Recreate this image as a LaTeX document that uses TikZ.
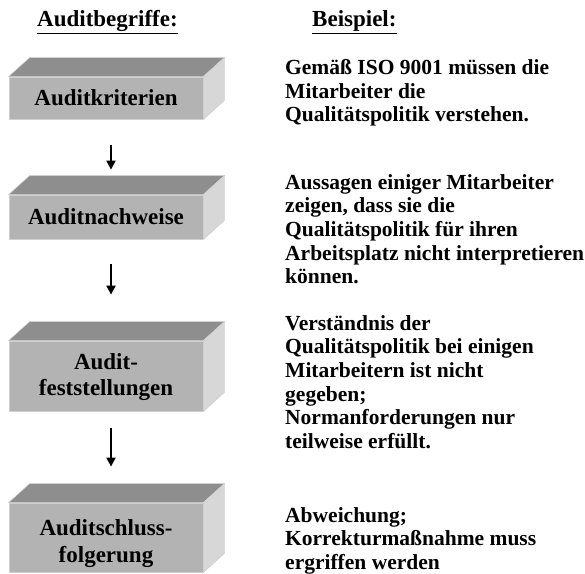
\documentclass[tikz,border=0pt]{standalone}
\usepackage{fontspec}
\setmainfont{Liberation Serif}
\usetikzlibrary{arrows.meta}
\definecolor{frontc}{HTML}{B3B3B3}
\definecolor{topc}{HTML}{8E8E8E}
\definecolor{sidec}{HTML}{D7D7D7}
\definecolor{edgec}{HTML}{CFCFCF}
\tikzset{
  front/.style={fill=frontc, draw=edgec, line width=0.8pt, minimum width=194pt, inner sep=0pt, align=center, font=\fontsize{23}{26.5}\selectfont\bfseries},
  boxlabel/.style={inner sep=0pt, align=center, font=\fontsize{23}{26.5}\selectfont\bfseries},
  topface/.style={fill=topc, draw=edgec, line width=0.6pt},
  sideface/.style={fill=sidec, draw=edgec, line width=0.6pt},
  txt/.style={anchor=north west, inner sep=0pt, align=left, font=\fontsize{21.5}{23.7}\selectfont\bfseries},
  hdr/.style={anchor=base west, inner sep=0pt, font=\fontsize{23}{26}\selectfont\bfseries},
  arr/.style={-{Triangle[length=9pt,width=9pt]}, line width=2pt}
}
\newcommand{\cubefaces}[1]{%
  \path[topface] (#1.north west) -- ++(21pt,19pt) -- ([shift={(21pt,19pt)}]#1.north east) -- (#1.north east) -- cycle;
  \path[sideface] (#1.north east) -- ++(21pt,19pt) -- ([shift={(21pt,19pt)}]#1.south east) -- (#1.south east) -- cycle;
}
\begin{document}
\begin{tikzpicture}[x=1pt,y=1pt]
\useasboundingbox[fill=white] (0,0) rectangle (585,573);
% headers
\node[hdr] (h1) at (37,546) {\underline{Auditbegriffe:}};
\node[hdr] (h2) at (312,546) {\underline{Beispiel:}};
% boxes
\node[front, minimum height=42pt] (b1) at (106,475) {Auditkriterien};
\node[front, minimum height=44pt] (b2) at (106,356) {Auditnachweise};
\node[front, minimum height=70pt] (b3) at (106,197) {};
\node[boxlabel] (l3) at ([yshift=-1pt]b3.center) {Audit-\\feststellungen};
\node[front, minimum height=69pt] (b4) at (106,35.5) {};
\node[boxlabel] (l4) at ([yshift=-6pt]b4.center) {Auditschluss-\\folgerung};
\cubefaces{b1}
\cubefaces{b2}
\cubefaces{b3}
\cubefaces{b4}
% arrows
\draw[arr, shorten <=26pt, shorten >=25pt] ([xshift=5pt]b1.south) -- ([xshift=5pt]b2.north);
\draw[arr, shorten <=25pt, shorten >=46pt] ([xshift=5pt]b2.south) -- ([xshift=5pt]b3.north);
\draw[arr, shorten <=17pt, shorten >=36pt] ([xshift=5pt]b3.south) -- ([xshift=5pt]b4.north);
% examples
\node[txt] (t1) at (285,514) {Gemäß ISO 9001 müssen die\\Mitarbeiter die\\Qualitätspolitik verstehen.};
\node[txt] (t2) at (285,399) {Aussagen einiger Mitarbeiter\\zeigen, dass sie die\\Qualitätspolitik für ihren\\Arbeitsplatz nicht interpretieren\\können.};
\node[txt] (t3) at (285,258) {Verständnis der\\Qualitätspolitik bei einigen\\Mitarbeitern ist nicht\\gegeben;\\Normanforderungen nur\\teilweise erfüllt.};
\node[txt] (t4) at (285,66) {Abweichung;\\Korrekturmaßnahme muss\\ergriffen werden};
\end{tikzpicture}
\end{document}
